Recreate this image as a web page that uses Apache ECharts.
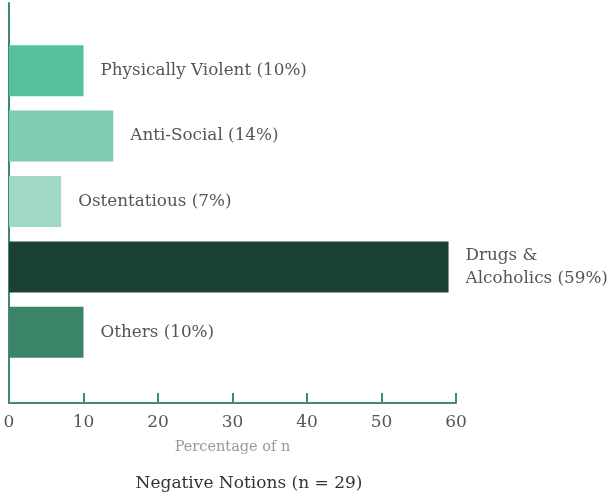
<!DOCTYPE html>
<html><head><meta charset="utf-8">
<script src="https://cdn.jsdelivr.net/npm/echarts@6/dist/echarts.min.js"></script>
<style>html,body{margin:0;padding:0;background:#fff}#c{width:607px;height:493px}</style>
</head><body><div id="c"></div>
<script>
const categories = ["Physically Violent", "Anti-Social", "Ostentatious", "Drugs &\nAlcoholics", "Others"];
const values = [10, 14, 7, 59, 10];
const colors = ["#57c19b", "#7fccb1", "#a0d9c4", "#1b4035", "#3a8568"];
const xTicks = [0, 10, 20, 30, 40, 50, 60];

const chart = echarts.init(document.getElementById('c'));
const serif = '"DejaVu Serif", serif';
const axisColor = '#3d8a6c';
chart.setOption({
  animation: false,
  grid: [
    {left: 9, right: 151, top: 3, bottom: 90},
    {left: 9, right: 151, top: 38, bottom: 128}
  ],
  title: {text: 'Negative Notions (n = 29)', left: 244, textAlign: 'center', top: 470,
    textStyle: {fontFamily: serif, fontWeight: 'normal', fontSize: 17, color: '#333'}},
  xAxis: [
    {type: 'value', gridIndex: 0, min: xTicks[0], max: xTicks[xTicks.length-1], interval: 10,
      axisLine: {show: true, onZero: false, lineStyle: {color: axisColor, width: 2}},
      axisTick: {show: true, inside: true, length: 10, lineStyle: {color: axisColor, width: 2}},
      splitLine: {show: false},
      axisLabel: {fontFamily: serif, fontSize: 17, color: '#555', margin: 11},
      name: 'Percentage of n', nameLocation: 'middle', nameGap: 37,
      nameTextStyle: {fontFamily: serif, fontSize: 14.5, color: '#999'}},
    {type: 'value', gridIndex: 1, min: xTicks[0], max: xTicks[xTicks.length-1], show: false}
  ],
  yAxis: [
    {type: 'value', gridIndex: 0, min: 0, max: 1,
      axisLine: {show: true, onZero: false, lineStyle: {color: axisColor, width: 2}},
      axisTick: {show: false}, axisLabel: {show: false}, splitLine: {show: false}},
    {type: 'category', gridIndex: 1, inverse: true, data: categories, show: false}
  ],
  series: [{
    type: 'bar', xAxisIndex: 1, yAxisIndex: 1, barWidth: 51,
    data: values.map((v, i) => ({value: v, itemStyle: {color: colors[i]}})),
    label: {show: true, position: 'right', distance: 17, fontFamily: serif, fontSize: 16.8,
      color: '#555', lineHeight: 23,
      formatter: p => categories[p.dataIndex] + ' (' + values[p.dataIndex] + '%)'}
  }]
});
</script></body></html>
